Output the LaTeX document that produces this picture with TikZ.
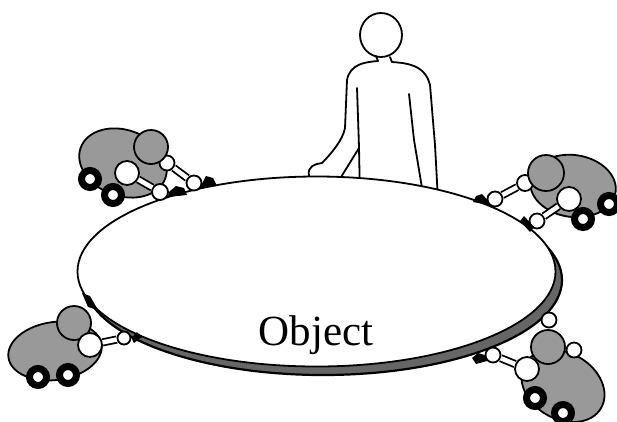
\documentclass[tikz,border=0pt]{standalone}
\usepackage{fontspec}
\setmainfont{Liberation Serif}
\usetikzlibrary{shapes.geometric}
\tikzset{
  outline/.style={line width=1.8pt, line join=round, line cap=round},
  body/.style={ellipse, draw, fill=black!40, line width=1.8pt, inner sep=0pt},
  headball/.style={circle, draw, fill=black!40, line width=1.8pt, inner sep=0pt, minimum size=34pt},
  joint/.style={circle, draw, fill=white, line width=1.8pt, inner sep=0pt, minimum size=24pt},
  knob/.style={circle, draw, fill=white, line width=1.8pt, inner sep=0pt, minimum size=15pt},
  wheel/.style={circle, draw=black, fill=white, line width=7pt, inner sep=0pt, minimum size=17pt},
  link/.style={draw=black, double=white, double distance=4.5pt, line width=1.8pt},
  tabletop/.style={ellipse, draw, fill=white, line width=1.8pt, inner sep=0pt, minimum width=478pt, minimum height=190pt},
  rim/.style={tabletop, fill=black!60, line width=2.2pt},
}
\begin{document}
\begin{tikzpicture}[x=1pt, y=-1pt]
  \useasboundingbox (0,0) rectangle (617,421);
  \node[draw, ellipse, outline, inner sep=0pt, minimum width=42pt, minimum height=44pt] (head) at (381,35) {};
  \draw[outline] (376,56) -- (378,61) .. controls (365,62) and (350,64) .. (347,80) -- (345,128)
    .. controls (343,140) and (330,155) .. (322,163) .. controls (315,164) and (307,166) .. (309,176) -- (310,190);
  \draw[outline] (390,57) -- (392,62) .. controls (405,63) and (425,64) .. (430,85) -- (435,145) -- (438,200);
  \draw[outline] (357,88) -- (359,147) -- (360,200);
  \draw[outline] (359,148) -- (333,190);
  \draw[outline] (409,94) -- (414,140) -- (424,200);
  \node[rim] (rim) at (323,280) {};
  \node[tabletop] (obj) at (316.5,271.5) {};
  \node[font=\fontsize{43}{50}\selectfont, anchor=base, inner sep=0pt] (lbl) at (316,345) {Object};
  \begin{scope}
    \node[body, minimum width=90pt, minimum height=66pt, rotate=-20] (b1) at (123,163) {};
    \node[knob] (s1) at (167,163) {};
    \node[headball] (h1) at (151,147) {};
    \node[wheel] (w1a) at (90,179) {};
    \node[wheel] (w1b) at (113,195) {};
    \node[joint] (j1) at (127,173) {};
    \node[knob, minimum size=16pt] (e1a) at (160,192) {};
    \node[knob] (e1b) at (194,183) {};
    \draw[link] (j1) -- (e1a);
    \draw[link] (s1) -- (e1b);
    \fill (e1a.east) -- (176,186) -- (184,188) -- (187,195) -- (168,197) -- cycle;
    \fill (e1b.east) -- (206,176) -- (213,178) -- (217,186) -- (200,188) -- cycle;
  \end{scope}
  \begin{scope}
    \node[body, minimum width=86pt, minimum height=62pt, rotate=-8] (b2) at (573,186) {};
    \node[knob, minimum size=16pt] (s2) at (525,183) {};
    \node[headball, minimum size=36pt] (h2) at (546,173) {};
    \node[wheel] (w2a) at (583,219) {};
    \node[wheel] (w2b) at (609,204) {};
    \node[joint] (j2) at (569,199) {};
    \node[knob] (e2a) at (495,199) {};
    \node[knob] (e2b) at (537,221) {};
    \draw[link] (s2) -- (e2a);
    \draw[link] (j2) -- (e2b);
    \fill (e2a.west) -- (482,194) -- (476,196) -- (473,202) -- (489,205) -- cycle;
    \fill (e2b.west) -- (524,216) -- (520,221) -- (530,232) -- (534,227) -- cycle;
  \end{scope}
  \begin{scope}
    \fill (82,293) -- (90,296) -- (98,310) -- (88,307) -- cycle;
    \node[body, minimum width=94pt, minimum height=58pt, rotate=8] (b3) at (55,351) {};
    \node[headball] (h3) at (74,323) {};
    \node[wheel] (w3a) at (38,377) {};
    \node[wheel] (w3b) at (68,375) {};
    \node[joint] (j3) at (90,345) {};
    \node[knob, minimum size=13pt] (e3) at (124,338) {};
    \draw[link] (j3) -- (e3);
    \fill (e3.east) -- (137,332) -- (142,337) -- (134,343) -- cycle;
  \end{scope}
  \begin{scope}
    \node[body, minimum width=88pt, minimum height=66pt, rotate=-30] (b4) at (563,386) {};
    \node[knob] (s4a) at (549,320) {};
    \node[knob] (s4b) at (574,350) {};
    \node[headball] (h4) at (548,347) {};
    \node[wheel] (w4a) at (535,398) {};
    \node[wheel] (w4b) at (563,413) {};
    \node[joint] (j4) at (527,369) {};
    \node[knob] (e4) at (493,355) {};
    \draw[link] (j4) -- (e4);
    \fill (e4.west) -- (478,353) -- (472,358) -- (476,364) -- (487,361) -- cycle;
  \end{scope}
\end{tikzpicture}
\end{document}
